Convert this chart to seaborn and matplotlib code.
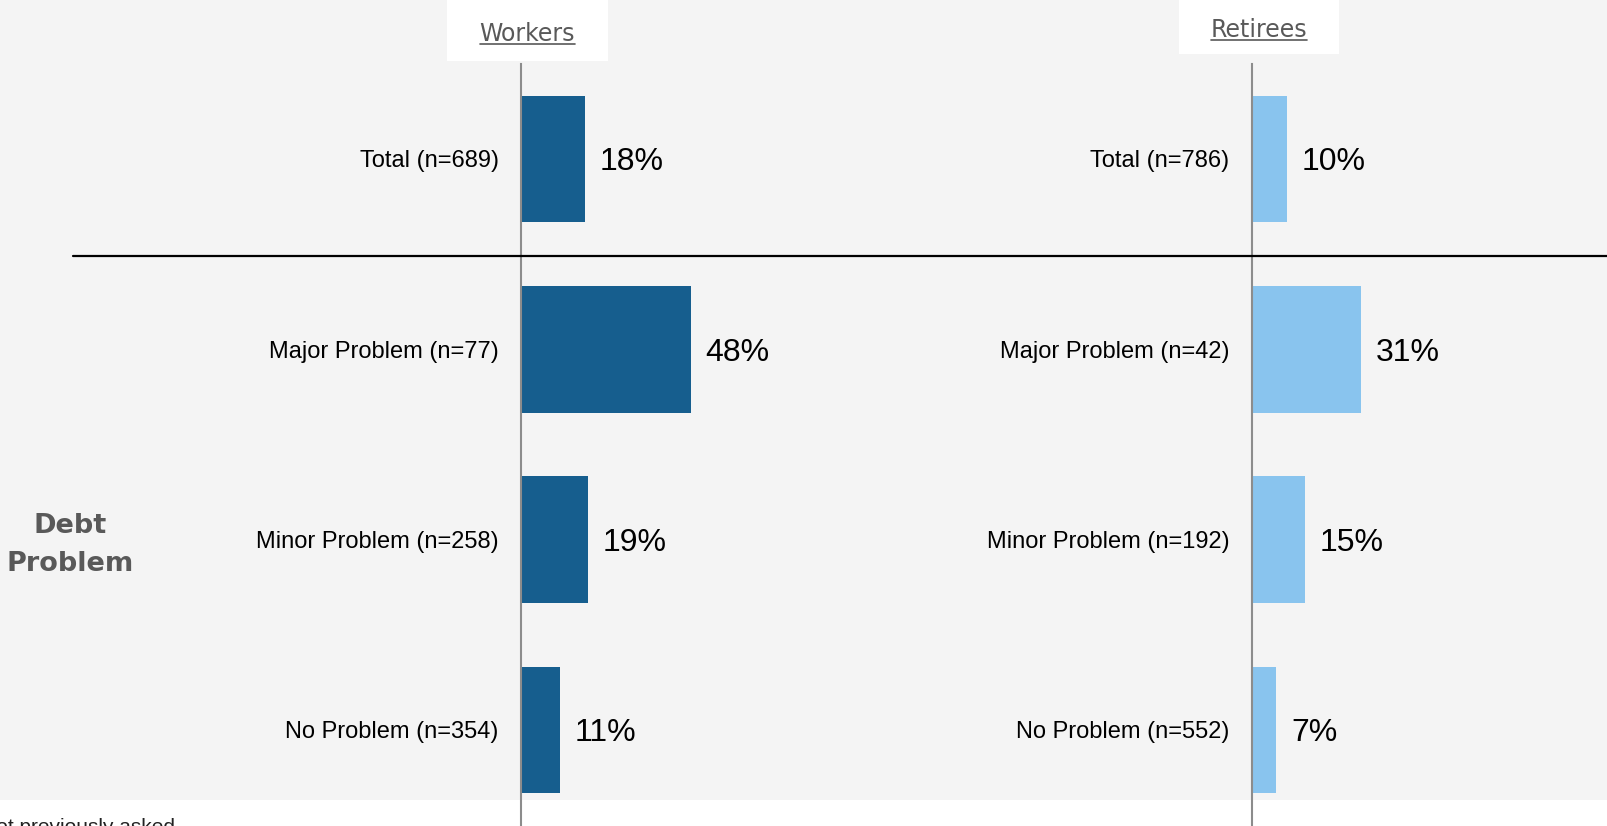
import matplotlib
matplotlib.use("Agg")
import matplotlib.pyplot as plt
import matplotlib.transforms as mtransforms
from matplotlib.patches import Rectangle
from matplotlib.lines import Line2D
import seaborn as sns

# ---------------------------------------------------------------
# data
# ---------------------------------------------------------------
workers_labels = ["Total (n=689)", "Major Problem (n=77)", "Minor Problem (n=258)", "No Problem (n=354)"]
workers_values = [18, 48, 19, 11]
retirees_labels = ["Total (n=786)", "Major Problem (n=42)", "Minor Problem (n=192)", "No Problem (n=552)"]
retirees_values = [10, 31, 15, 7]
panel_titles = ["Workers", "Retirees"]
group_label = "Debt\nProblem"
footnote = "Not previously asked"

dark_blue = "#165E8E"
light_blue = "#89C4EE"
bg_gray = "#F4F4F4"
title_gray = "#595959"

W, H = 1608, 826
px_per_pct = 3.54

sns.set_theme(style="white")
plt.rcParams["font.family"] = ["Liberation Sans", "DejaVu Sans"]

fig = plt.figure(figsize=(W / 100, H / 100), dpi=100, facecolor="white")

# gray panel behind everything (white strip at the bottom)
fig.add_artist(Rectangle((0, 26 / H), 1, 1 - 26 / H, transform=fig.transFigure,
                         facecolor=bg_gray, edgecolor="none", zorder=0))

top_px = 64
ax_h = (H - top_px) / H
ylim = (-0.499 + (H - top_px) / 190.3, -0.499)


def draw_panel(left_px, width_px, labels, values, color):
    ax = fig.add_axes([left_px / W, 0, width_px / W, ax_h])
    ax.set_facecolor("none")
    sns.barplot(x=values, y=labels, orient="h", color=color, width=0.665,
                saturation=1, linewidth=0, ax=ax)
    ax.set_xlim(0, width_px / px_per_pct)
    ax.set_ylim(*ylim)
    for s in ["top", "right", "bottom"]:
        ax.spines[s].set_visible(False)
    ax.spines["left"].set_color("#8C8C8C")
    ax.spines["left"].set_linewidth(1.5)
    ax.spines["left"].set_zorder(3)
    ax.set_xticks([])
    ax.set_xlabel("")
    ax.set_ylabel("")
    ax.tick_params(axis="y", length=0, pad=16, labelsize=17, labelcolor="black")
    texts = ax.bar_label(ax.containers[0], labels=[f"{v}%" for v in values],
                         padding=10.5, fontsize=23, color="black")
    for t in texts:
        t.set_va("center_baseline")
    return ax


ax_w = draw_panel(521, 700, workers_labels, workers_values, dark_blue)
ax_r = draw_panel(1251.7, W - 1251.7, retirees_labels, retirees_values, light_blue)

# separator between the total row and the breakdown
sep = mtransforms.blended_transform_factory(fig.transFigure, ax_w.transData)
fig.add_artist(Line2D([72.7 / W, 1], [0.51, 0.51], transform=sep, color="black",
                      linewidth=1.6, zorder=5))

# group label on the left, centred on the breakdown rows
fig.text(70 / W, 2.03, group_label, transform=sep, ha="center", va="center",
         fontsize=19.5, fontweight="bold", color=title_gray,
         family=["DejaVu Sans"], linespacing=1.58)

# panel titles in white boxes, underlined
boxes = [(446.7, 608.3, 61, 527.3, 40.7, 43.5), (1179, 1339, 54, 1259, 36.7, 40)]
fig.canvas.draw()
renderer = fig.canvas.get_renderer()
for title, (x0, x1, bh, cx, base, ul) in zip(panel_titles, boxes):
    fig.add_artist(Rectangle((x0 / W, 1 - bh / H), (x1 - x0) / W, bh / H,
                             transform=fig.transFigure, facecolor="white",
                             edgecolor="none", zorder=1))
    t = fig.text(cx / W, 1 - base / H, title, ha="center", va="baseline",
                 fontsize=17, color=title_gray, family=["DejaVu Sans"], zorder=2)
    bb = t.get_window_extent(renderer)
    fig.add_artist(Line2D([bb.x0 / W, bb.x1 / W], [1 - ul / H, 1 - ul / H],
                          transform=fig.transFigure, color=title_gray,
                          linewidth=1.2, zorder=2))

fig.text(175 / W, -7 / H, footnote, ha="right", va="baseline", fontsize=15,
         color="#222222")

fig.savefig("out.png", dpi=100, facecolor="white")
